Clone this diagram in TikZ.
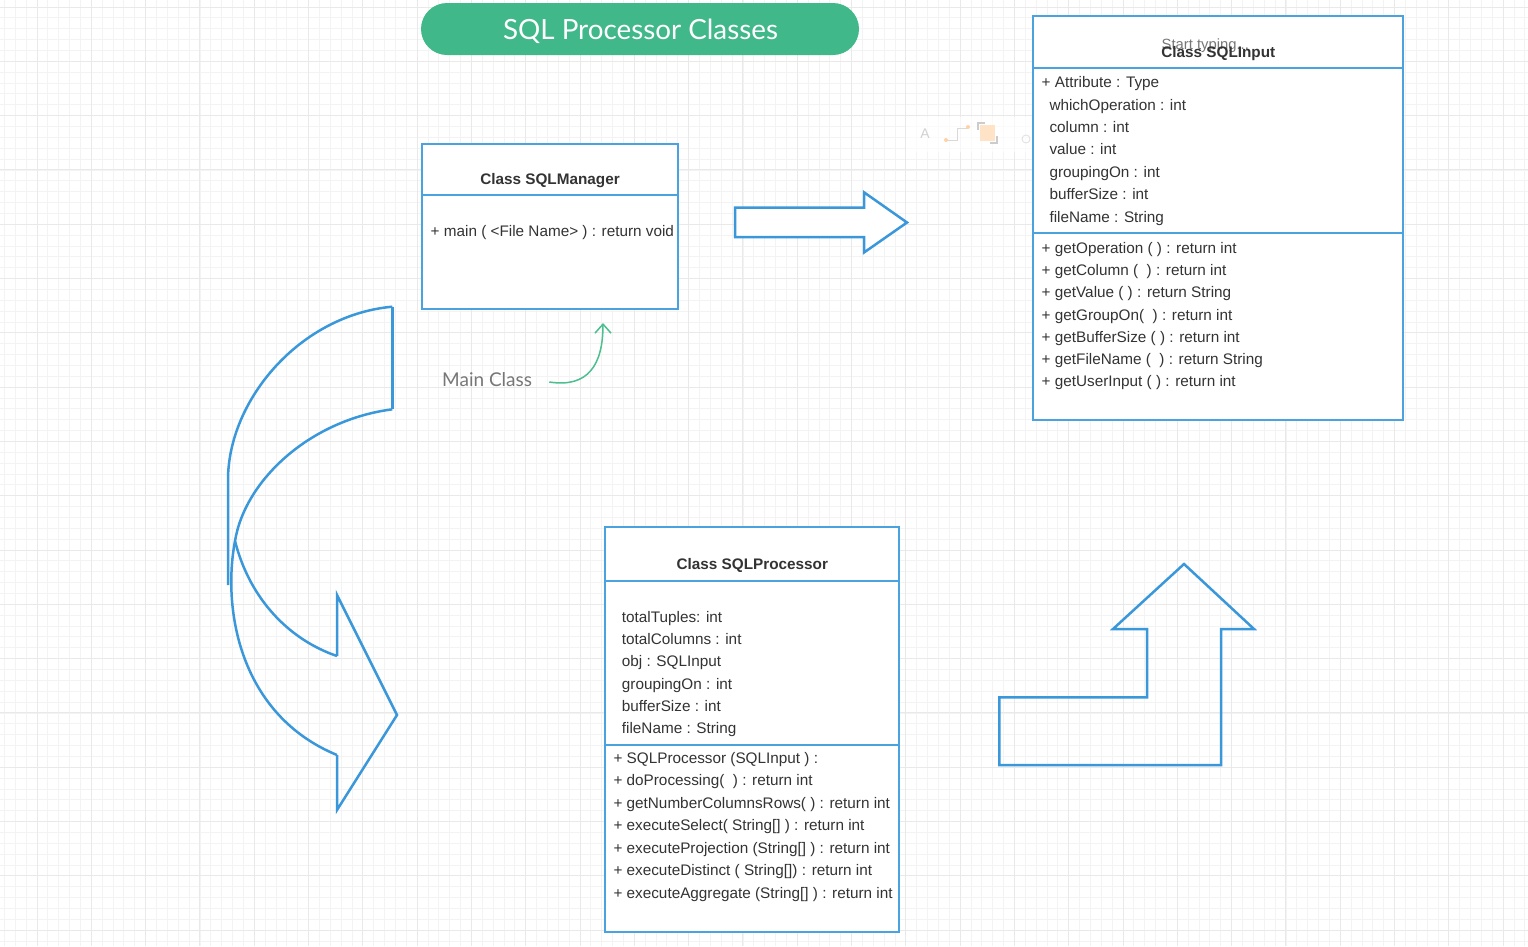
\documentclass[tikz,border=0pt]{standalone}
\usepackage{fontspec}
\setmainfont{Liberation Sans}
\newfontfamily\latofont{Lato}
\usetikzlibrary{arrows.meta}
\definecolor{boxblue}{HTML}{4AA3DF}
\definecolor{arrblue}{HTML}{3A98DA}
\definecolor{ttlgreen}{HTML}{40B88A}
\definecolor{mcgreen}{HTML}{4CBF90}
\definecolor{txtgray}{HTML}{333333}
\definecolor{lblgray}{HTML}{777777}
\definecolor{gridminor}{HTML}{F3F3F3}
\definecolor{gridmajor}{HTML}{E9E9E9}
\begin{document}
\begin{tikzpicture}[x=1pt,y=-1pt,
  classbox/.style={draw=boxblue,line width=2pt,fill=white,anchor=north west,inner sep=0,outer sep=0},
  divline/.style={draw=boxblue,line width=2pt},
  bigarrow/.style={draw=arrblue,line width=2.5pt,line join=miter},
  txt/.style={anchor=base west,inner sep=0,font=\fontsize{15.3}{18}\selectfont,text=txtgray},
  hdr/.style={anchor=base,inner sep=0,font=\bfseries\fontsize{15.3}{18}\selectfont,text=txtgray},
  ttlbox/.style={fill=ttlgreen,rounded corners=26pt,minimum width=438pt,minimum height=52pt,inner sep=0,text=white},
  ttltext/.style={anchor=base,inner sep=0,text=white,font=\latofont\fontsize{27.8}{32}\selectfont},
  mclabel/.style={inner sep=0,text=lblgray,font=\latofont\fontsize{19}{22}\selectfont},
  mcarrow/.style={draw=mcgreen,line width=1.5pt,-{Straight Barb[length=9pt,width=16pt]}}
]
% background and bounding box
\fill[white] (0,0) rectangle (1528,946);
\useasboundingbox (0,0) rectangle (1528,946);
% grid
\foreach \i in {0,...,140} {\draw[gridminor,line width=0.8pt] ({4.42+\i*10.86},0) -- ({4.42+\i*10.86},946);}
\foreach \j in {0,...,86} {\draw[gridminor,line width=0.8pt] (0,{7+\j*10.86}) -- (1528,{7+\j*10.86});}
\foreach \i in {0,...,27} {\draw[gridmajor,line width=1pt] ({37+\i*54.3},0) -- ({37+\i*54.3},946);}
\foreach \j in {0,...,17} {\draw[gridmajor,line width=1pt] (0,{7+\j*54.3}) -- (1528,{7+\j*54.3});}

% title
\node[ttlbox] (ttl) at (640,29) {};
\node[ttltext] (ttlT) at (640.5,39.5) {SQL Processor Classes};

% faint toolbar artefact
\fill[fill=white,opacity=0.6] (906,117) rectangle (1032,152);
\node[inner sep=0,text=black!18,font=\fontsize{14}{16}\selectfont] (tbA) at (925,134) {A};
\draw[black!15,line width=1pt] (946,140) -- (957,140) -- (957,128) -- (968,128);
\fill[orange!35] (946,140) circle (2pt) (968,127) circle (2pt);
\fill[orange!22] (980,125) rectangle (995,141);
\draw[black!20,line width=1.5pt] (978,130) -- (978,123) -- (985,123);
\draw[black!20,line width=1.5pt] (997,136) -- (997,143) -- (990,143);
\draw[black!12,line width=0.8pt] (1026,139) circle (4pt);

% SQLManager
\node[classbox,minimum width=256pt,minimum height=165pt] (mgr) at (422,144) {};
\draw[divline] (422,195) -- (678,195);
\node[hdr] (mgrH) at (550,184.3) {Class SQLManager};
\node[txt] (mgrM) at (430.5,236) {+ main ( <File Name> ) : return void};

% Main Class label and connector
\node[mclabel,anchor=west] (mcl) at (442,380) {Main Class};
\coordinate (mctip) at (603,323);
\draw[mcarrow] ([xshift=17pt,yshift=-2pt]mcl.east) .. controls (588,388) and (603,365) .. (mctip);

% SQLInput
\node[classbox,minimum width=370pt,minimum height=404pt] (inp) at (1033,15.5) {};
\draw[divline] (1033,68.3) -- (1403,68.3);
\draw[divline] (1033,232.5) -- (1403,232.5);
\node[txt,anchor=base west,text=lblgray,font=\fontsize{14.8}{18}\selectfont] (inpS) at (1161.5,49.3) {Start typing...};
\node[hdr] (inpH) at (1218.3,57.7) {Class SQLInput};
\node[txt] (inpA0) at (1041.5,87.7) {+ Attribute : Type};
\foreach \t [count=\n] in {{whichOperation : int},{column : int},{value : int},{groupingOn : int},{bufferSize : int},{fileName : String}}
  {\node[txt] (inpA\n) at (1049.3,{87.7+\n*22.4}) {\t};}
\foreach \t [count=\n] in {{+ getOperation ( ) : return int},{+ getColumn (\ \ ) : return int},{+ getValue ( ) : return String},{+ getGroupOn(\ \ ) : return int},{+ getBufferSize ( ) : return int},{+ getFileName (\ \ ) : return String},{+ getUserInput ( ) : return int}}
  {\node[txt] (inpM\n) at (1041.5,{253.3+(\n-1)*22.25}) {\t};}

% SQLProcessor
\node[classbox,minimum width=294pt,minimum height=404.5pt] (prc) at (605,527.3) {};
\draw[divline] (605,580.7) -- (899,580.7);
\draw[divline] (605,745) -- (899,745);
\node[hdr] (prcH) at (752.3,569.3) {Class SQLProcessor};
\foreach \t [count=\n] in {{totalTuples: int},{totalColumns : int},{obj : SQLInput},{groupingOn : int},{bufferSize : int},{fileName : String}}
  {\node[txt] (prcA\n) at (621.7,{622.7+(\n-1)*22.1}) {\t};}
\foreach \t [count=\n] in {{+ SQLProcessor (SQLInput ) :},{+ doProcessing(\ \ ) : return int},{+ getNumberColumnsRows( ) : return int},{+ executeSelect( String[] ) : return int},{+ executeProjection (String[] ) : return int},{+ executeDistinct ( String[]) : return int},{+ executeAggregate (String[] ) : return int}}
  {\node[txt] (prcM\n) at (613.3,{763.3+(\n-1)*22.5}) {\t};}

% right arrow
\draw[bigarrow,fill=white] (735,207.5) -- (864,207.5) -- (864,192.3) -- (907,222.5) -- (864,252.5) -- (864,237) -- (735,237) -- cycle;

% bent up arrow
\draw[bigarrow] (999.3,697.3) -- (999.3,765) -- (1221,765) -- (1221,629) -- (1254,629) -- (1184,564) -- (1113,629) -- (1147,629) -- (1147,697.3) -- cycle;

% curved arrow on the left
\draw[bigarrow] (392.3,306.7) -- (392.3,409.3);
\draw[bigarrow] (392.3,306.7) .. controls (300,315) and (228,400) .. (228,480) -- (228,585);
\draw[bigarrow] (392.3,409.3) .. controls (310,420) and (245,480) .. (235,541)
   .. controls (222,610) and (240,715) .. (337,755);
\draw[bigarrow] (235,541) .. controls (250,600) and (290,640) .. (337,656);
\draw[bigarrow] (337,656) -- (337,595) -- (397,715) -- (337,810) -- (337,755);
\end{tikzpicture}
\end{document}
